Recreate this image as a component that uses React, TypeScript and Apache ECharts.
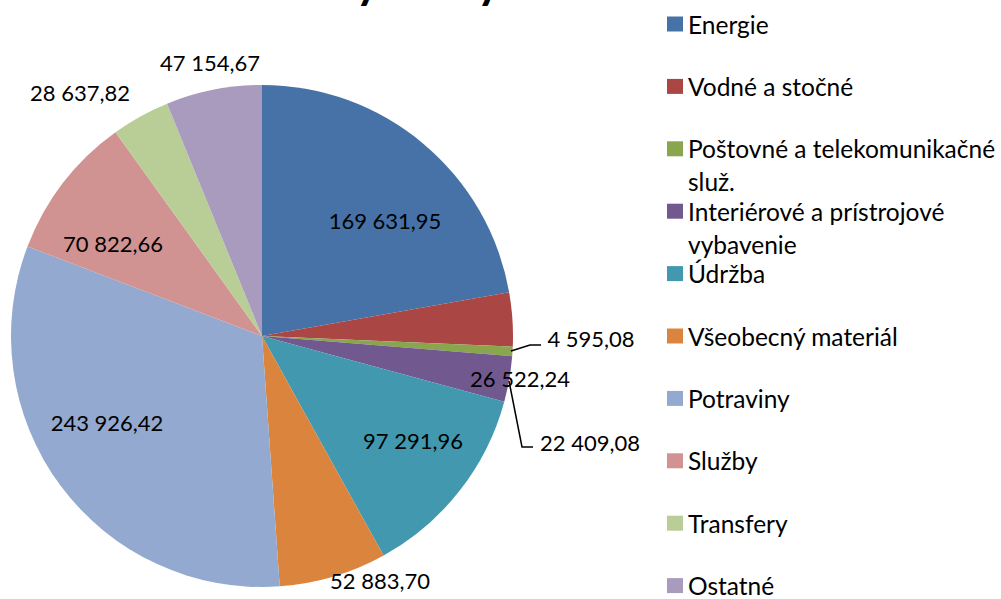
import React, { useEffect, useRef } from "react";
import * as echarts from "echarts";

// ---- data ----
const categories: string[] = [
  "Energie",
  "Vodné a stočné",
  "Poštovné a telekomunikačné služ.",
  "Interiérové a prístrojové vybavenie",
  "Údržba",
  "Všeobecný materiál",
  "Potraviny",
  "Služby",
  "Transfery",
  "Ostatné",
];
const values: number[] = [
  169631.95, 26522.24, 4595.08, 22409.08, 97291.96, 52883.7, 243926.42, 70822.66, 28637.82, 47154.67,
];
const titleText = "Bežné výdavky";

// ---- styling / layout ----
const colors = [
  "#4672A8", "#AA4643", "#89A54E", "#71588F", "#4198AF",
  "#DB843D", "#93A9CF", "#D19392", "#B9CD96", "#A99BBD",
];
const FONT = "Lato, 'Noto Sans', sans-serif";
const LEGEND_FS = 24.5;
const LABEL_FS = 22;
const legendFirstLine: Record<string, string> = {
  "Poštovné a telekomunikačné služ.": "Poštovné a telekomunikačné",
  "Interiérové a prístrojové vybavenie": "Interiérové a prístrojové",
};
const legendContinuations = [
  { text: "služ.", x: 688, y: 181 },
  { text: "vybavenie", x: 688, y: 244 },
];
// label centres in px (layout only)
const labelPos: [number, number][] = [
  [385, 220], [520, 378], [591, 338], [590, 442], [413, 440],
  [380, 580], [107, 422], [113, 243], [80, 92], [210, 62],
];
const leaderLines: [number, number][][] = [
  [[511, 351], [530, 345], [541, 345]],
  [[509, 381], [522, 447], [533, 447]],
];

function fmt(v: number): string {
  const [i, d] = v.toFixed(2).split(".");
  return i.replace(/\B(?=(\d{3})+(?!\d))/g, " ") + "," + d;
}

export default function App() {
  const ref = useRef<HTMLDivElement>(null);
  useEffect(() => {
    if (!ref.current) return;
    const chart = echarts.init(ref.current, undefined, { renderer: "svg" });
    const graphics: any[] = [
      {
        type: "text",
        x: 195,
        y: -20,
        style: {
          text: titleText,
          font: `bold 46px ${FONT}`,
          fill: "#000",
          verticalAlign: "middle",
          align: "left",
        },
      },
      ...legendContinuations.map((c) => ({
        type: "text",
        x: c.x,
        y: c.y,
        style: {
          text: c.text,
          font: `${LEGEND_FS}px ${FONT}`,
          fill: "#000",
          verticalAlign: "middle",
          align: "left",
        },
      })),
      ...leaderLines.map((pts) => ({
        type: "polyline",
        shape: { points: pts },
        style: { stroke: "#000", lineWidth: 1.5, fill: null },
        z: 10,
      })),
    ];
    chart.setOption({
      animation: false,
      backgroundColor: "#fff",
      color: colors,
      graphic: graphics,
      legend: {
        orient: "vertical",
        left: 667,
        top: 11.5,
        height: 800,
        padding: 0,
        itemWidth: 16,
        itemHeight: 15,
        itemGap: 37.4,
        icon: "rect",
        selectedMode: false,
        data: categories,
        formatter: (name: string) => legendFirstLine[name] ?? name,
        textStyle: { fontFamily: FONT, fontSize: LEGEND_FS, color: "#000", lineHeight: 22 },
      },
      series: [
        {
          type: "pie",
          center: [262, 336],
          radius: 251,
          startAngle: 90,
          clockwise: true,
          avoidLabelOverlap: false,
          itemStyle: { borderWidth: 0 },
          emphasis: { disabled: true },
          label: {
            show: true,
            position: "inside",
            formatter: (p: any) => fmt(p.value),
            fontFamily: FONT,
            fontSize: LABEL_FS,
            color: "#000",
          },
          labelLine: { show: false },
          labelLayout: (p: any) => ({
            x: labelPos[p.dataIndex][0],
            y: labelPos[p.dataIndex][1],
            align: "center",
            verticalAlign: "middle",
          }),
          data: categories.map((c, i) => ({ name: c, value: values[i] })),
        },
      ],
    });
    return () => chart.dispose();
  }, []);
  return (
    <div
      ref={ref}
      style={{ position: "fixed", left: 0, top: 0, width: 1001, height: 599 }}
    />
  );
}
